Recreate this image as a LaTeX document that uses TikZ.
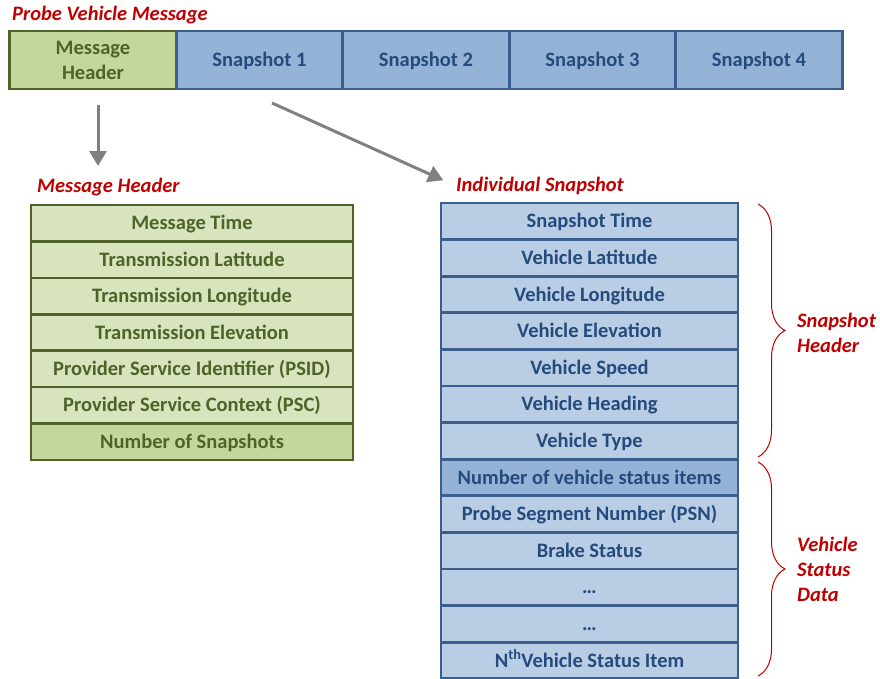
\documentclass[tikz,border=0pt]{standalone}
\usepackage{fontspec}
\setmainfont{Carlito}
\usetikzlibrary{arrows.meta,decorations.pathreplacing}

\definecolor{gfill}{HTML}{D7E4BD}
\definecolor{gdark}{HTML}{C3D69B}
\definecolor{gline}{HTML}{4F6228}
\definecolor{bfill}{HTML}{B9CDE5}
\definecolor{bdark}{HTML}{95B3D7}
\definecolor{bline}{HTML}{3A5F8F}
\definecolor{btext}{HTML}{254A7C}
\definecolor{lbl}{HTML}{C00000}
\definecolor{arrowgray}{HTML}{808080}

\tikzset{
  cell/.style={draw, line width=2.6pt, minimum height=36.5pt, inner sep=0pt,
    text height=13pt, text depth=0pt,
    font=\fontsize{20.5}{24}\selectfont\bfseries},
  gcell/.style={cell, draw=gline, fill=gfill, text=gline, minimum width=322pt},
  bcell/.style={cell, draw=bline, fill=bfill, text=btext, minimum width=297pt},
  topcell/.style={cell, draw=bline, fill=bdark, text=btext, minimum width=166.5pt, minimum height=58pt},
  redlabel/.style={text=lbl, font=\fontsize{20.5}{25}\selectfont\bfseries\itshape, inner sep=0pt},
  grayarrow/.style={draw=arrowgray, line width=3pt, -{Triangle[length=15pt,width=17pt]}},
  redbrace/.style={draw=lbl, line width=1pt, decorate, decoration={brace, amplitude=27pt}}
}

\begin{document}
\begin{tikzpicture}[x=1pt,y=-1pt]
\useasboundingbox (0,0) rectangle (880,678);
\clip (0,0) rectangle (880,678);
\fill[white] (0,0) rectangle (880,678);

% message layout bar
\node[topcell, draw=gline, fill=gdark, text=gline] (hdr) at (93,60) {};
\node[text=gline, align=center, inner sep=0pt,
  font=\fontsize{20.5}{25}\selectfont\bfseries] (hdrtext) at (93,60) {Message\\Header};
\node[topcell] (s1) at (259.5,60) {Snapshot 1};
\node[topcell] (s2) at (426,60) {Snapshot 2};
\node[topcell] (s3) at (592.5,60) {Snapshot 3};
\node[topcell] (s4) at (759,60) {Snapshot 4};
\node[redlabel, anchor=west] (pvm) at (12,15) {Probe Vehicle Message};

% message header fields
\node[redlabel, anchor=west] (mhl) at (37,187) {Message Header};
\node[gcell] (m1) at (192,223.2) {Message Time};
\node[gcell] (m2) at (192,259.6) {Transmission Latitude};
\node[gcell] (m3) at (192,296.1) {Transmission Longitude};
\node[gcell] (m4) at (192,332.5) {Transmission Elevation};
\node[gcell] (m5) at (192,368.9) {Provider Service Identifier (PSID)};
\node[gcell] (m6) at (192,405.4) {Provider Service Context (PSC)};
\node[gcell, fill=gdark] (m7) at (192,441.8) {Number of Snapshots};

% snapshot fields
\node[redlabel, anchor=west] (isl) at (456,186) {Individual Snapshot};
\node[bcell] (r1) at (589.5,221.3) {Snapshot Time};
\node[bcell] (r2) at (589.5,257.9) {Vehicle Latitude};
\node[bcell] (r3) at (589.5,294.5) {Vehicle Longitude};
\node[bcell] (r4) at (589.5,331.1) {Vehicle Elevation};
\node[bcell] (r5) at (589.5,367.7) {Vehicle Speed};
\node[bcell] (r6) at (589.5,404.3) {Vehicle Heading};
\node[bcell] (r7) at (589.5,440.9) {Vehicle Type};
\node[bcell, fill=bdark] (r8) at (589.5,477.5) {Number of vehicle status items};
\node[bcell] (r9) at (589.5,514.1) {Probe Segment Number (PSN)};
\node[bcell] (r10) at (589.5,550.7) {Brake Status};
\node[bcell] (r11) at (589.5,587.3) {\dots};
\node[bcell] (r12) at (589.5,623.9) {\dots};
\node[bcell] (r13) at (589.5,660.5) {N\textsuperscript{th}Vehicle Status Item};

% arrows from the bar to the detail tables
\coordinate (a1s) at (98,105);
\coordinate (a1e) at (98,166);
\draw[grayarrow] (a1s) -- (a1e);
\coordinate (a2s) at (272,103);
\draw[grayarrow, shorten >=14pt] (a2s) -- (isl.west);

% braces grouping the snapshot fields
\coordinate (b1t) at (758,204);
\coordinate (b1b) at (758,457);
\coordinate (b2t) at (758,462);
\coordinate (b2b) at (758,676);
\draw[redbrace] (b1t) -- (b1b);
\draw[redbrace] (b2t) -- (b2b);
\node[redlabel, anchor=west, align=left] (shl) at (797,333) {Snapshot\\Header};
\node[redlabel, anchor=west, align=left] (vsl) at (797,569) {Vehicle\\Status\\Data};
\end{tikzpicture}
\end{document}
